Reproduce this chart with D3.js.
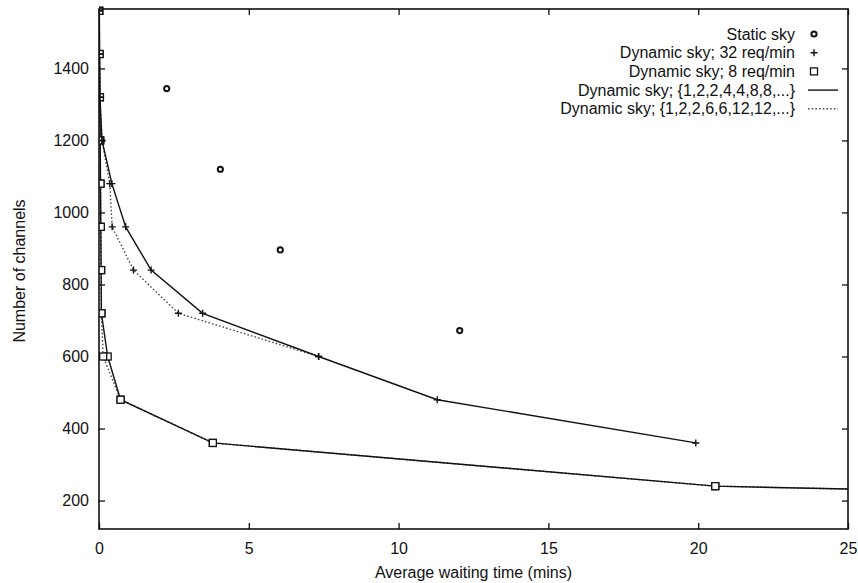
<!DOCTYPE html>
<html>
<head>
<meta charset="utf-8">
<script src="https://cdn.jsdelivr.net/npm/d3@7"></script>
<style>
  html, body { margin: 0; padding: 0; background: #fff; }
  svg { display: block; font-family: "Liberation Sans", Arial, Helvetica, sans-serif; }
  .axis text { font-size: 16px; fill: #111; }
  .axis path { display: none; }
  .axis line { stroke: #111; stroke-width: 1.3; }
</style>
</head>
<body>
<svg id="chart" width="858" height="583"></svg>
<script>
// Static sky: waiting time (mins) vs. number of channels
const staticWait = [2.26, 4.05, 6.05, 12.04];
const staticChannels = [1344, 1120, 896, 672];

// Dynamic sky, 32 requests/min
const channels32 = [1560, 1440, 1320, 1200, 1080, 960, 840, 720, 600, 480, 360];
const wait32Seq1 = [0.0, 0.01, 0.03, 0.1, 0.43, 0.89, 1.74, 3.46, 7.33, 11.29, 19.92]; // {1,2,2,4,4,8,8,...}
const channels32Seq2 = [1560, 1440, 1320, 1200, 1080, 960, 840, 720, 600];
const wait32Seq2 = [0.0, 0.01, 0.03, 0.1, 0.36, 0.44, 1.15, 2.65, 7.33];             // {1,2,2,6,6,12,12,...}

// Dynamic sky, 8 requests/min
const channels8 = [1560, 1440, 1320, 1200, 1080, 960, 840, 720, 600, 480, 360, 240, 120];
const wait8Seq1 = [0.01, 0.02, 0.03, 0.04, 0.05, 0.06, 0.07, 0.08, 0.29, 0.72, 3.8, 20.57, 86];
const wait8Seq2 = [0.01, 0.02, 0.03, 0.04, 0.05, 0.06, 0.07, 0.08, 0.14, 0.72, 3.8, 20.57, 86];

const xTicks = [0, 5, 10, 15, 20, 25];
const yTicks = [200, 400, 600, 800, 1000, 1200, 1400];

const legendLabels = [
  "Static sky",
  "Dynamic sky; 32 req/min",
  "Dynamic sky; 8 req/min",
  "Dynamic sky; {1,2,2,4,4,8,8,...}",
  "Dynamic sky; {1,2,2,6,6,12,12,...}"
];

const svg = d3.select("#chart");
const plotLeft = 99, plotRight = 848, plotTop = 9, plotBottom = 529;

const x = d3.scaleLinear().domain([0, 25]).range([plotLeft, plotRight]);
const y = d3.scaleLinear().domain([121, 1565]).range([plotBottom, plotTop]);

const zip = (xs, ys) => xs.map((v, i) => [v, ys[i]]);

svg.append("defs").append("clipPath").attr("id", "plot-clip")
  .append("rect").attr("x", plotLeft).attr("y", plotTop - 4)
  .attr("width", plotRight - plotLeft).attr("height", plotBottom - plotTop + 4);

// Inward ticks on all four sides, labels on bottom and left
svg.append("g").attr("class", "axis")
  .attr("transform", `translate(0,${plotBottom})`)
  .call(d3.axisBottom(x).tickValues(xTicks).tickFormat(d3.format("d"))
    .tickSizeInner(-6).tickSizeOuter(0).tickPadding(14));
svg.append("g").attr("class", "axis")
  .attr("transform", `translate(0,${plotTop})`)
  .call(d3.axisTop(x).tickValues(xTicks).tickSizeInner(-6).tickSizeOuter(0).tickFormat(""));
svg.append("g").attr("class", "axis")
  .attr("transform", `translate(${plotLeft},0)`)
  .call(d3.axisLeft(y).tickValues(yTicks).tickFormat(d3.format("d"))
    .tickSizeInner(-6).tickSizeOuter(0).tickPadding(10));
svg.append("g").attr("class", "axis")
  .attr("transform", `translate(${plotRight},0)`)
  .call(d3.axisRight(y).tickValues(yTicks).tickSizeInner(-6).tickSizeOuter(0).tickFormat(""));

// Axis titles
svg.append("text")
  .attr("x", (plotLeft + plotRight) / 2).attr("y", 578)
  .attr("text-anchor", "middle").attr("font-size", 16).attr("fill", "#111")
  .text("Average waiting time (mins)");
svg.append("text")
  .attr("transform", "translate(25,271) rotate(-90)")
  .attr("text-anchor", "middle").attr("font-size", 16).attr("fill", "#111")
  .text("Number of channels");

const plot = svg.append("g").attr("clip-path", "url(#plot-clip)");
const line = d3.line().x(d => x(d[0])).y(d => y(d[1]));

const solidStyle = sel => sel.attr("fill", "none").attr("stroke", "#111").attr("stroke-width", 1.4);
const dottedStyle = sel => sel.attr("fill", "none").attr("stroke", "#444").attr("stroke-width", 1.4)
  .attr("stroke-dasharray", "1.5,2.2");

// Lines
plot.append("path").datum(zip(wait32Seq2, channels32Seq2)).attr("d", line).call(dottedStyle);
plot.append("path").datum(zip(wait8Seq2, channels8)).attr("d", line).call(dottedStyle);
plot.append("path").datum(zip(wait32Seq1, channels32)).attr("d", line).call(solidStyle);
plot.append("path").datum(zip(wait8Seq1, channels8)).attr("d", line).call(solidStyle);

// Marker shapes
function drawPlus(g, cx, cy) {
  g.append("path").attr("d", `M${cx - 3.5},${cy}H${cx + 3.5}M${cx},${cy - 3.5}V${cy + 3.5}`)
    .attr("stroke", "#111").attr("stroke-width", 1.4).attr("fill", "none");
}
function drawSquare(g, cx, cy) {
  g.append("rect").attr("x", cx - 3.5).attr("y", cy - 3.5).attr("width", 7).attr("height", 7)
    .attr("fill", "#fff").attr("stroke", "#111").attr("stroke-width", 1.3);
}
function drawStatic(g, cx, cy) {
  g.append("circle").attr("cx", cx).attr("cy", cy).attr("r", 2.6)
    .attr("fill", "#fff").attr("stroke", "#111").attr("stroke-width", 2);
}

const marks = svg.append("g").attr("clip-path", "url(#plot-clip)");
zip(wait8Seq1, channels8).forEach(d => drawSquare(marks, x(d[0]), y(d[1])));
zip(wait8Seq2, channels8).forEach(d => drawSquare(marks, x(d[0]), y(d[1])));
zip(wait32Seq1, channels32).forEach(d => drawPlus(marks, x(d[0]), y(d[1])));
zip(wait32Seq2, channels32Seq2).forEach(d => drawPlus(marks, x(d[0]), y(d[1])));
zip(staticWait, staticChannels).forEach(d => drawStatic(marks, x(d[0]), y(d[1])));

// Frame
svg.append("rect").attr("x", plotLeft).attr("y", plotTop)
  .attr("width", plotRight - plotLeft).attr("height", plotBottom - plotTop)
  .attr("fill", "none").attr("stroke", "#111").attr("stroke-width", 1.6);

// Legend
const legend = svg.append("g");
const rowY = i => 34 + i * 18.7;
legendLabels.forEach((label, i) => {
  legend.append("text")
    .attr("x", 795).attr("y", rowY(i)).attr("dy", "0.35em")
    .attr("text-anchor", "end").attr("font-size", 16).attr("fill", "#111")
    .text(label);
});
drawStatic(legend, 814, rowY(0));
drawPlus(legend, 814, rowY(1));
drawSquare(legend, 814, rowY(2));
legend.append("line").attr("x1", 808).attr("x2", 838).attr("y1", rowY(3)).attr("y2", rowY(3)).call(solidStyle);
legend.append("line").attr("x1", 808).attr("x2", 838).attr("y1", rowY(4)).attr("y2", rowY(4)).call(dottedStyle);
</script>
</body>
</html>
